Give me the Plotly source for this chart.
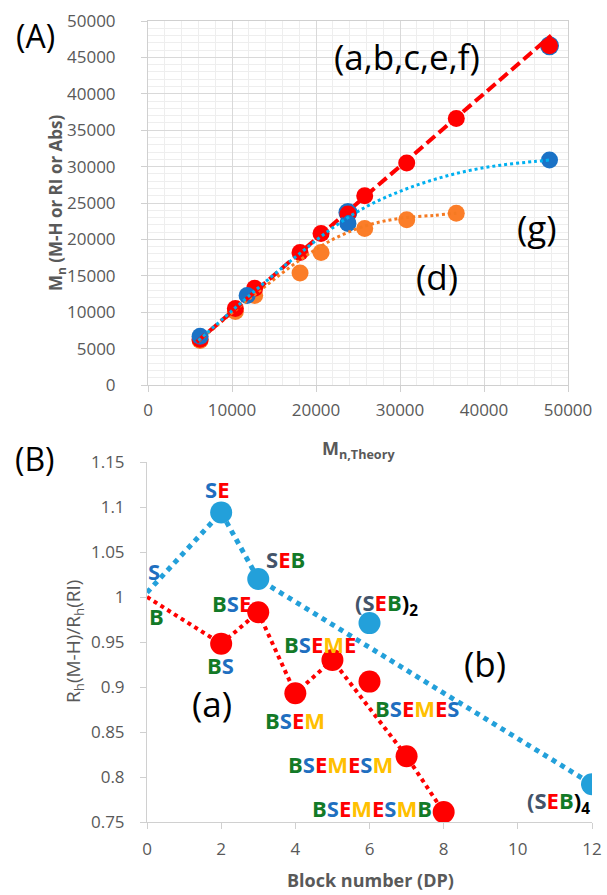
import plotly.graph_objects as go

W, H = 607, 895

# ---------------- Panel A data ----------------
red_x = [6200, 10400, 12700, 18100, 20600, 23800, 25800, 30800, 36700, 47800]
red_y = [6300, 10500, 13300, 18200, 20800, 23500, 26000, 30500, 36600, 46600]
orange_x = [6200, 10400, 12700, 18100, 20600, 25800, 30800, 36700]
orange_y = [6100, 10100, 12300, 15400, 18200, 21500, 22700, 23600]
blue_x = [6200, 11800, 23800, 47800]
blue_y = [6700, 12300, 22200, 30900]
blue_ring_x = [23800, 47800]
blue_ring_y = [23700, 46600]

red_fit_x = [5800, 48000]
red_fit_y = [5900, 48000]
blue_fit_x = [6000, 10000, 14000, 18000, 22000, 26000, 30000, 34000, 38000, 42000, 46000, 47800]
blue_fit_y = [6100, 10200, 14200, 18000, 21600, 24500, 26600, 28200, 29400, 30200, 30700, 30900]
orange_fit_x = [6000, 10000, 14000, 18000, 22000, 26000, 30000, 34000, 36700]
orange_fit_y = [6000, 9900, 13600, 17100, 20000, 21900, 22900, 23300, 23600]

a_xticks = [0, 10000, 20000, 30000, 40000, 50000]
a_yticks = [0, 5000, 10000, 15000, 20000, 25000, 30000, 35000, 40000, 45000, 50000]

# ---------------- Panel B data ----------------
b_pts_x = [2, 3, 6, 12]
b_pts_y = [1.094, 1.020, 0.971, 0.792]
b_line_x = [0, 2, 3, 12]
b_line_y = [1.005, 1.094, 1.020, 0.792]
a_pts_x = [2, 3, 4, 5, 6, 7, 8]
a_pts_y = [0.948, 0.983, 0.893, 0.930, 0.906, 0.823, 0.761]
a_line_x = [0, 2, 3, 4, 5, 7, 8]
a_line_y = [1.000, 0.948, 0.983, 0.893, 0.930, 0.823, 0.761]

b_xticks = [0, 2, 4, 6, 8, 10, 12]
b_yticks = [0.75, 0.8, 0.85, 0.9, 0.95, 1.0, 1.05, 1.1, 1.15]
b_yticktext = ["0.75", "0.8", "0.85", "0.9", "0.95", "1", "1.05", "1.1", "1.15"]

# colours
RED = "#ff0000"
ORANGE = "#fb7d28"
BLUE = "#1a72c6"
LBLUE = "#00b0f0"
BBLUE = "#23a0da"
GREEN = "#137a27"
SBLUE = "#1f6fc0"
YEL = "#ffc000"
SLATE = "#44546a"
GRAY = "#595959"
FONT = "Open Sans"

fig = go.Figure()

# Panel A markers
fig.add_trace(go.Scatter(x=blue_ring_x, y=blue_ring_y, mode="markers",
                         marker=dict(size=19, color=BLUE), xaxis="x", yaxis="y", showlegend=False))
fig.add_trace(go.Scatter(x=orange_x, y=orange_y, mode="markers",
                         marker=dict(size=17, color=ORANGE), xaxis="x", yaxis="y", showlegend=False))
fig.add_trace(go.Scatter(x=red_x, y=red_y, mode="markers",
                         marker=dict(size=17, color=RED), xaxis="x", yaxis="y", showlegend=False))
fig.add_trace(go.Scatter(x=blue_x, y=blue_y, mode="markers",
                         marker=dict(size=17, color=BLUE), xaxis="x", yaxis="y", showlegend=False))
# Panel A trendlines
fig.add_trace(go.Scatter(x=orange_fit_x, y=orange_fit_y, mode="lines", line_shape="spline",
                         line=dict(color="#f57a22", width=3, dash="3px,3px"),
                         xaxis="x", yaxis="y", showlegend=False))
fig.add_trace(go.Scatter(x=red_fit_x, y=red_fit_y, mode="lines",
                         line=dict(color=RED, width=4, dash="11px,5px"),
                         xaxis="x", yaxis="y", showlegend=False))
fig.add_trace(go.Scatter(x=blue_fit_x, y=blue_fit_y, mode="lines", line_shape="spline",
                         line=dict(color=LBLUE, width=3, dash="3px,3px"),
                         xaxis="x", yaxis="y", showlegend=False))

# Panel B
fig.add_trace(go.Scatter(x=b_line_x, y=b_line_y, mode="lines",
                         line=dict(color=BBLUE, width=5, dash="5px,5px"),
                         xaxis="x2", yaxis="y2", showlegend=False))
fig.add_trace(go.Scatter(x=a_line_x, y=a_line_y, mode="lines",
                         line=dict(color=RED, width=4, dash="4px,4px"),
                         xaxis="x2", yaxis="y2", showlegend=False))
fig.add_trace(go.Scatter(x=b_pts_x, y=b_pts_y, mode="markers",
                         marker=dict(size=22, color=BBLUE), xaxis="x2", yaxis="y2", showlegend=False))
fig.add_trace(go.Scatter(x=a_pts_x, y=a_pts_y, mode="markers",
                         marker=dict(size=22, color=RED), xaxis="x2", yaxis="y2", showlegend=False))

tickfont = dict(family=FONT, size=17, color=GRAY)
axis_common = dict(showline=True, linecolor="#d0d0d0", linewidth=1, zeroline=False,
                   ticks="outside", ticklen=6, tickcolor="#d0d0d0", tickfont=tickfont,
                   automargin=False)

fig.update_layout(
    width=W, height=H, margin=dict(l=0, r=0, t=0, b=0, pad=0, autoexpand=False), autosize=False,
    paper_bgcolor="white", plot_bgcolor="white", showlegend=False,
    xaxis=dict(domain=[148 / W, 568 / W], anchor="y", range=[0, 50000],
               tickvals=a_xticks, ticktext=[str(v) for v in a_xticks],
               showgrid=True, gridcolor="#d9d9d9", mirror=True,
               minor=dict(dtick=2000, showgrid=True, gridcolor="#eeeeee", ticks=""),
               ticklabelstandoff=4, **axis_common),
    yaxis=dict(domain=[1 - 385 / H, 1 - 21 / H], anchor="x", range=[0, 50000],
               tickvals=a_yticks, ticktext=[str(v) for v in a_yticks],
               showgrid=True, gridcolor="#d9d9d9", mirror=True,
               minor=dict(dtick=1000, showgrid=True, gridcolor="#eeeeee", ticks=""),
               ticklabelstandoff=22, **axis_common),
    xaxis2=dict(domain=[147 / W, 592 / W], anchor="y2", range=[0, 12],
                tickvals=b_xticks, ticktext=[str(v) for v in b_xticks],
                showgrid=False, ticklabelstandoff=6, **axis_common),
    yaxis2=dict(domain=[1 - 822 / H, 1 - 462 / H], anchor="x2", range=[0.75, 1.15],
                tickvals=b_yticks, ticktext=b_yticktext,
                showgrid=False, ticklabelstandoff=12, **axis_common),
)


def P(x, y):
    return x / W, 1 - y / H


def ann(text, x, y, size, color="black", angle=0, family=FONT):
    px_, py_ = P(x, y)
    fig.add_annotation(x=px_, y=py_, xref="paper", yref="paper", text=text,
                       showarrow=False, textangle=angle,
                       font=dict(family=family, size=size, color=color),
                       xanchor="center", yanchor="middle")


CMAP = {"B": GREEN, "S": SBLUE, "E": RED, "M": YEL}


def colored(word):
    return "<b>" + "".join(f'<span style="color:{CMAP[c]}">{c}</span>' for c in word) + "</b>"


def seb(sub):
    return (f'<b><span style="color:{SLATE}">(S</span><span style="color:{RED}">E</span>'
            f'<span style="color:{GREEN}">B</span><span style="color:black">)<sub>{sub}</sub></span></b>')


LS = 22  # point-label size

# Panel letters and series labels
ann("(A)", 35, 35, 32)
ann("(a,b,c,e,f)", 407, 57, 35)
ann("(d)", 437, 277, 35)
ann("(g)", 537, 227, 35)
ann("(B)", 35, 459, 32)
ann("(a)", 212, 703, 35)
ann("(b)", 485, 663, 35)

# Axis titles
ann("<b>M<sub>n</sub> (M-H or RI or Abs)</b>", 56, 203, 17, GRAY, -90)
ann("<b>M<sub>n,Theory</sub></b>", 358, 449, 18, GRAY)
ann("R<sub>h</sub>(M-H)/R<sub>h</sub>(RI)", 74, 642, 19, GRAY, -90)
ann("<b>Block number (DP)</b>", 370, 880, 18, GRAY)

# Panel B point labels
ann(f'<b><span style="color:{SBLUE}">S</span><span style="color:{RED}">E</span></b>', 217, 489, LS)
ann(f'<b><span style="color:{SLATE}">S</span><span style="color:{RED}">E</span>'
    f'<span style="color:{GREEN}">B</span></b>', 285, 559, LS)
ann(seb(2), 386, 604, LS)
ann(seb(4), 558, 802, LS)
ann(colored("S"), 154, 571, LS)
ann(colored("B"), 156, 616, LS)
ann(colored("BSE"), 231, 603, LS)
ann(colored("BS"), 220, 665, LS)
ann(colored("BSEM"), 295, 720, LS)
ann(colored("BSEME"), 320, 644, LS)
ann(colored("BSEMES"), 417, 708, LS)
ann(colored("BSEMESM"), 340, 764, LS)
ann(colored("BSEMESMB"), 372, 808, LS)

post = ("document.documentElement.style.margin='0';document.documentElement.style.overflow='hidden';"
        "document.body.style.margin='0';document.body.style.padding='0';document.body.style.overflow='hidden';")

fig.write_html("out.html", config={"responsive": False, "displayModeBar": False}, post_script=post)
